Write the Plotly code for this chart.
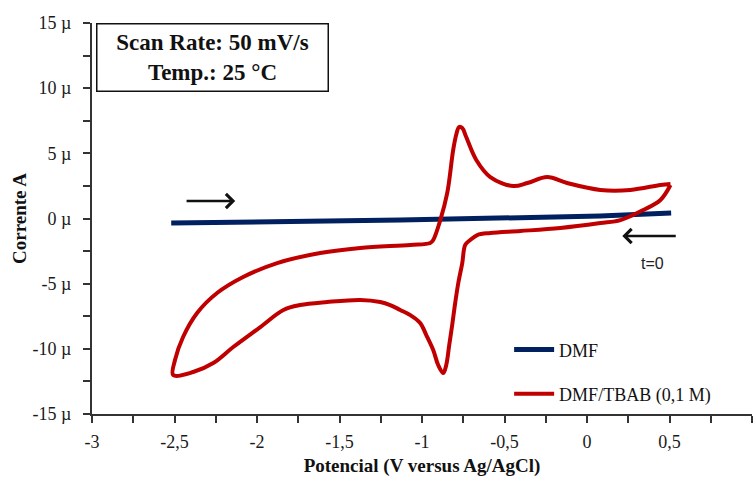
import plotly.graph_objects as go

# Cyclic voltammetry: blank solvent vs. solvent + supporting electrolyte
dmf_v = [-2.52, -1.13, 0.08, 0.51]
dmf_i = [-0.35, -0.12, 0.19, 0.42]

tbab_v = [0.506, 0.445, 0.341, 0.203, 0.081, -0.162, -0.404, -0.586, -0.665, -0.708,
          -0.738, -0.756, -0.780, -0.799, -0.817, -0.835, -0.853, -0.871, -0.902, -0.932,
          -0.974, -1.011, -1.071, -1.132, -1.193, -1.253, -1.374, -1.575, -1.739, -1.840,
          -1.980, -2.144, -2.265, -2.387, -2.508, -2.497, -2.448, -2.363, -2.242, -2.084,
          -1.878, -1.617, -1.374, -1.071, -0.950, -0.932, -0.889, -0.847, -0.811, -0.793,
          -0.775, -0.756, -0.732, -0.671, -0.586, -0.447, -0.362, -0.241, -0.120, 0.081,
          0.263, 0.445, 0.506]
tbab_i = [2.57, 1.42, 0.65, -0.12, -0.35, -0.73, -0.96, -1.11, -1.27, -1.65,
          -2.03, -3.42, -4.95, -6.49, -8.17, -9.71, -11.24, -11.86, -11.24, -10.09,
          -8.94, -8.02, -7.41, -7.02, -6.64, -6.41, -6.25, -6.41, -6.64, -7.02,
          -8.33, -9.86, -11.09, -11.78, -12.01, -10.86, -9.09, -7.25, -5.72, -4.49,
          -3.42, -2.65, -2.26, -2.03, -1.88, -1.65, -0.12, 1.96, 5.26, 6.41,
          7.02, 6.95, 6.25, 4.49, 3.18, 2.49, 2.72, 3.18, 2.72, 2.19,
          2.19, 2.57, 2.65]

x_tickvals = [-3, -2.5, -2, -1.5, -1, -0.5, 0, 0.5, 1]
x_ticktext = ["-3", "-2,5", "-2", "-1,5", "-1", "-0,5", "0", "0,5", "1"]
y_tickvals = [-15, -10, -5, 0, 5, 10, 15]
y_ticktext = ["-15 µ", "-10 µ", "-5 µ", "0 µ", "5 µ", "10 µ", "15 µ"]

SERIF = "Liberation Serif, Times New Roman, serif"
AXIS_COLOR = "#333333"

fig = go.Figure()
fig.add_trace(go.Scatter(x=dmf_v, y=dmf_i, mode="lines", name="DMF",
                         line=dict(color="#002060", width=5), legend="legend"))
fig.add_trace(go.Scatter(x=tbab_v, y=tbab_i, mode="lines", name="DMF/TBAB (0,1 M)",
                         line=dict(color="#C00000", width=4, shape="spline", smoothing=1.0),
                         legend="legend2"))

axis_common = dict(showline=True, linecolor=AXIS_COLOR, linewidth=2, showgrid=False,
                   zeroline=False, ticks="outside", ticklen=7, tickwidth=1.5,
                   tickcolor=AXIS_COLOR, automargin=False, mirror=False,
                   tickfont=dict(family=SERIF, size=18, color="#1a1a1a"))

fig.update_xaxes(range=[-3, 1], tickmode="array", tickvals=x_tickvals, ticktext=x_ticktext,
                 minor=dict(ticks="outside", dtick=0.25, tick0=-3, ticklen=7,
                            tickwidth=1.5, tickcolor=AXIS_COLOR),
                 title=dict(text="<b>Potencial (V versus Ag/AgCl)</b>",
                            font=dict(family=SERIF, size=19, color="#111"), standoff=8),
                 ticklabelstandoff=3, **axis_common)
fig.update_yaxes(range=[-15, 15], tickmode="array", tickvals=y_tickvals, ticktext=y_ticktext,
                 minor=dict(ticks="outside", dtick=2.5, tick0=-15, ticklen=7,
                            tickwidth=1.5, tickcolor=AXIS_COLOR),
                 title=dict(text="<b>Corrente A</b>",
                            font=dict(family=SERIF, size=19, color="#111"), standoff=1),
                 ticklabelstandoff=8, **axis_common)

legend_style = dict(font=dict(family=SERIF, size=18, color="#111"), bgcolor="rgba(0,0,0,0)",
                    xanchor="left", yanchor="middle", itemwidth=40)
fig.update_layout(
    width=753, height=478,
    margin=dict(l=92, r=1, t=23, b=64),
    paper_bgcolor="white", plot_bgcolor="white",
    legend=dict(x=0.632, y=0.164, **legend_style),
    legend2=dict(x=0.632, y=0.051, **legend_style),
    showlegend=True,
)

# Scan direction arrows and start marker
fig.add_annotation(x=-2.132, y=1.34, ax=-2.436, ay=1.34, xref="x", yref="y",
                   axref="x", ayref="y", text="", showarrow=True, arrowhead=4,
                   arrowsize=1.1, arrowwidth=2.5, arrowcolor="#111")
fig.add_annotation(x=0.214, y=-1.34, ax=0.547, ay=-1.34, xref="x", yref="y",
                   axref="x", ayref="y", text="", showarrow=True, arrowhead=4,
                   arrowsize=1.1, arrowwidth=2.5, arrowcolor="#111")
fig.add_annotation(x=0.396, y=-3.42, xref="x", yref="y", text="t=0", showarrow=False,
                   font=dict(family="Liberation Sans, Arial, sans-serif", size=16, color="#222"))

# Experimental conditions box
fig.add_annotation(x=0.006, y=1.0, xref="paper", yref="paper", xanchor="left", yanchor="top",
                   text="<b>Scan Rate: 50 mV/s</b><br><b>Temp.: 25 °C</b>",
                   showarrow=False, align="center", width=226, height=62,
                   bordercolor="#111", borderwidth=1.5, borderpad=2, bgcolor="white",
                   font=dict(family=SERIF, size=23, color="#111"))

fig.write_html("out.html")
